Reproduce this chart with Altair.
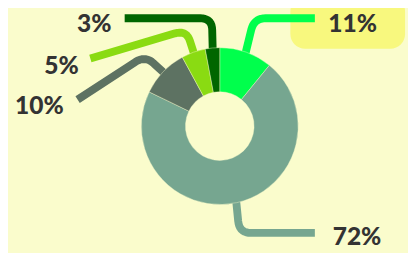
import altair as alt
import pandas as pd
import numpy as np

# ---- data ----
labels = ["11%", "72%", "10%", "5%", "3%"]
values = [11, 72, 10, 5, 3]
colors = ["#00ff4c", "#76a690", "#5d7262", "#8adb12", "#006600"]

# ---- layout (reference pixel coordinates) ----
W, H = 408, 245
CX, CY, R_OUT, R_IN = 224, 126, 80, 35
label_pos = [(359.5, 22), (364, 239.5), (40, 106), (62.5, 65), (96, 22.5)]
leader_bends = [(259, 16), (244, 235), (148, 54), (190, 28), (216, 16)]
leader_ends = [(321, 16), (321, 235), (79, 99), (92, 57), (127, 16)]
highlight = (296, -6, 413, 47)  # box behind the first label

total = float(sum(values))


def rounded(pts, r=12, n=10):
    out = [pts[0]]
    for i in range(1, len(pts) - 1):
        P, C, N = (np.array(pts[i - 1], float), np.array(pts[i], float),
                   np.array(pts[i + 1], float))
        d1, d2 = P - C, N - C
        l1, l2 = np.linalg.norm(d1), np.linalg.norm(d2)
        a = C + d1 / l1 * min(r, l1 / 2)
        b = C + d2 / l2 * min(r, l2 / 2)
        for t in np.linspace(0, 1, n):
            q = (1 - t) ** 2 * a + 2 * (1 - t) * t * C + t ** 2 * b
            out.append(tuple(q))
    out.append(pts[-1])
    return out


rows = []
cum = 0.0
for i, (lab, v) in enumerate(zip(labels, values)):
    mid = (cum + v / 2) / total * 2 * np.pi
    cum += v
    start = (CX + (R_OUT - 3) * np.sin(mid), CY - (R_OUT - 3) * np.cos(mid))
    pts = rounded([start, leader_bends[i], leader_ends[i]])
    for k, (x, y) in enumerate(pts):
        rows.append({"label": lab, "seq": k, "x": x, "y": y})
lines_df = pd.DataFrame(rows)

pie_df = pd.DataFrame({"label": labels, "value": values, "idx": range(len(labels))})
text_df = pd.DataFrame({"label": labels,
                        "x": [p[0] for p in label_pos],
                        "y": [p[1] for p in label_pos]})
box_df = pd.DataFrame([{"x": highlight[0], "y": highlight[1],
                        "x2": highlight[2], "y2": highlight[3]}])

xs = alt.Scale(domain=[8, 8 + W], range=[0, W])
ys = alt.Scale(domain=[8, 8 + H], range=[0, H])
cs = alt.Scale(domain=labels, range=colors)

box = alt.Chart(box_df).mark_rect(color="#f8f87e", cornerRadius=15).encode(
    x=alt.X("x:Q", scale=xs, axis=None), x2="x2:Q",
    y=alt.Y("y:Q", scale=ys, axis=None), y2="y2:Q")

lines = alt.Chart(lines_df).mark_line(strokeWidth=8, strokeCap="butt",
                                      strokeJoin="round").encode(
    x=alt.X("x:Q", scale=xs, axis=None),
    y=alt.Y("y:Q", scale=ys, axis=None),
    color=alt.Color("label:N", scale=cs, legend=None),
    detail="label:N",
    order="seq:Q")

pie = alt.Chart(pie_df).mark_arc(radius=R_OUT, radius2=R_IN, stroke="#fafccc",
                                 strokeWidth=0.4).encode(
    theta=alt.Theta("value:Q", stack=True),
    order=alt.Order("idx:Q"),
    color=alt.Color("label:N", scale=cs, legend=None),
    x=alt.value(CX - 8), y=alt.value(CY - 8))

text = alt.Chart(text_df).mark_text(font="Lato", fontSize=25, fontWeight=900,
                                    color="#333333", align="center",
                                    baseline="middle").encode(
    x=alt.X("x:Q", scale=xs, axis=None),
    y=alt.Y("y:Q", scale=ys, axis=None),
    text="label:N")

chart = alt.layer(box, lines, pie, text).properties(
    width=W, height=H, background="#fafccc", padding=0,
    autosize=alt.AutoSizeParams(type="none")
).configure_view(stroke=None)

chart.save("out.html", embed_options={"renderer": "svg", "actions": False})
